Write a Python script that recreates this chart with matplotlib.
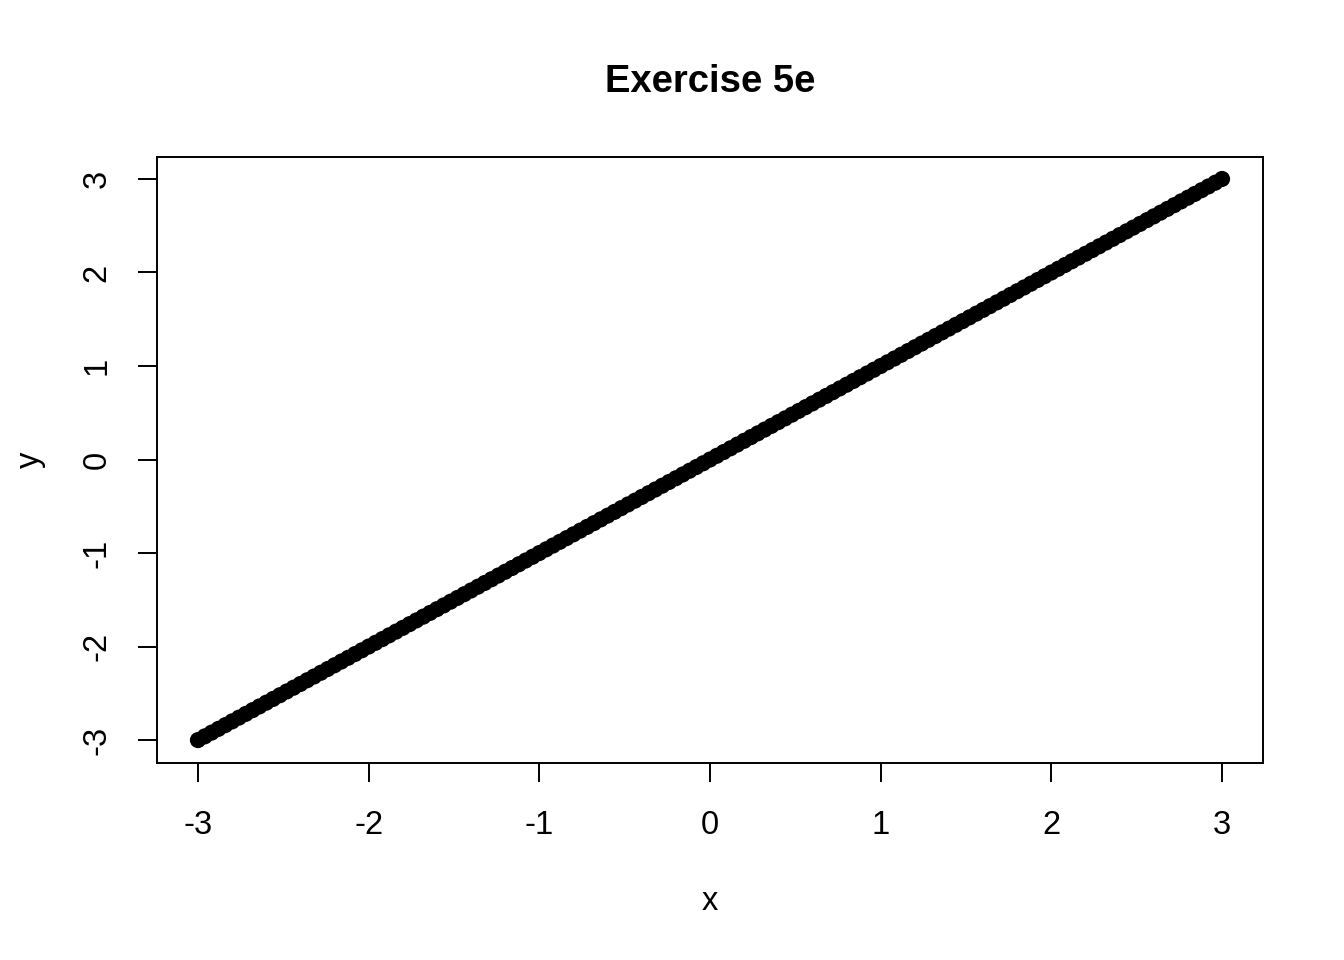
import matplotlib
matplotlib.use("Agg")
import matplotlib.pyplot as plt

x_values = [
    -3.00, -2.96, -2.92, -2.88, -2.84, -2.80, -2.76, -2.72, -2.68, -2.64,
    -2.60, -2.56, -2.52, -2.48, -2.44, -2.40, -2.36, -2.32, -2.28, -2.24,
    -2.20, -2.16, -2.12, -2.08, -2.04, -2.00, -1.96, -1.92, -1.88, -1.84,
    -1.80, -1.76, -1.72, -1.68, -1.64, -1.60, -1.56, -1.52, -1.48, -1.44,
    -1.40, -1.36, -1.32, -1.28, -1.24, -1.20, -1.16, -1.12, -1.08, -1.04,
    -1.00, -0.96, -0.92, -0.88, -0.84, -0.80, -0.76, -0.72, -0.68, -0.64,
    -0.60, -0.56, -0.52, -0.48, -0.44, -0.40, -0.36, -0.32, -0.28, -0.24,
    -0.20, -0.16, -0.12, -0.08, -0.04, 0.00, 0.04, 0.08, 0.12, 0.16,
    0.20, 0.24, 0.28, 0.32, 0.36, 0.40, 0.44, 0.48, 0.52, 0.56,
    0.60, 0.64, 0.68, 0.72, 0.76, 0.80, 0.84, 0.88, 0.92, 0.96,
    1.00, 1.04, 1.08, 1.12, 1.16, 1.20, 1.24, 1.28, 1.32, 1.36,
    1.40, 1.44, 1.48, 1.52, 1.56, 1.60, 1.64, 1.68, 1.72, 1.76,
    1.80, 1.84, 1.88, 1.92, 1.96, 2.00, 2.04, 2.08, 2.12, 2.16,
    2.20, 2.24, 2.28, 2.32, 2.36, 2.40, 2.44, 2.48, 2.52, 2.56,
    2.60, 2.64, 2.68, 2.72, 2.76, 2.80, 2.84, 2.88, 2.92, 2.96,
    3.00,
]
# y equals x at every point
y_values = list(x_values)

x_ticks = [-3, -2, -1, 0, 1, 2, 3]
y_ticks = [-3, -2, -1, 0, 1, 2, 3]
title = "Exercise 5e"
x_label = "x"
y_label = "y"

plt.rcParams['font.family'] = ['Liberation Sans', 'DejaVu Sans']

fig = plt.figure(figsize=(13.44, 9.6), dpi=100)
ax = fig.add_axes([157/1344, 1 - 763/960, (1263-157)/1344, (763-157)/960])

ax.scatter(x_values, y_values, s=135, c='black', edgecolors='none', zorder=3)

ax.set_xlim(-3.24, 3.24)
ax.set_ylim(-3.245, 3.235)

ax.set_xticks(x_ticks)
ax.set_xticklabels([str(t) for t in x_ticks])
ax.set_yticks(y_ticks)
ax.set_yticklabels([str(t) for t in y_ticks], rotation=90, va='center')

for sp in ax.spines.values():
    sp.set_linewidth(1.4)
    sp.set_color('black')

ax.tick_params(axis='both', direction='out', length=14, width=1.4,
               labelsize=23.5, colors='black')
ax.tick_params(axis='x', pad=20)
ax.tick_params(axis='y', pad=18)

fig.text(710/1344, 1 - 910/960, x_label, ha='center', va='baseline', fontsize=23.5)
fig.text(30/1344, 1 - 460/960, y_label, ha='center', va='center', fontsize=23.5, rotation=90)
fig.text(710/1344, 1 - 92/960, title, ha='center', va='baseline', fontsize=27.5, fontweight='bold')

fig.savefig("out.png", dpi=100)
